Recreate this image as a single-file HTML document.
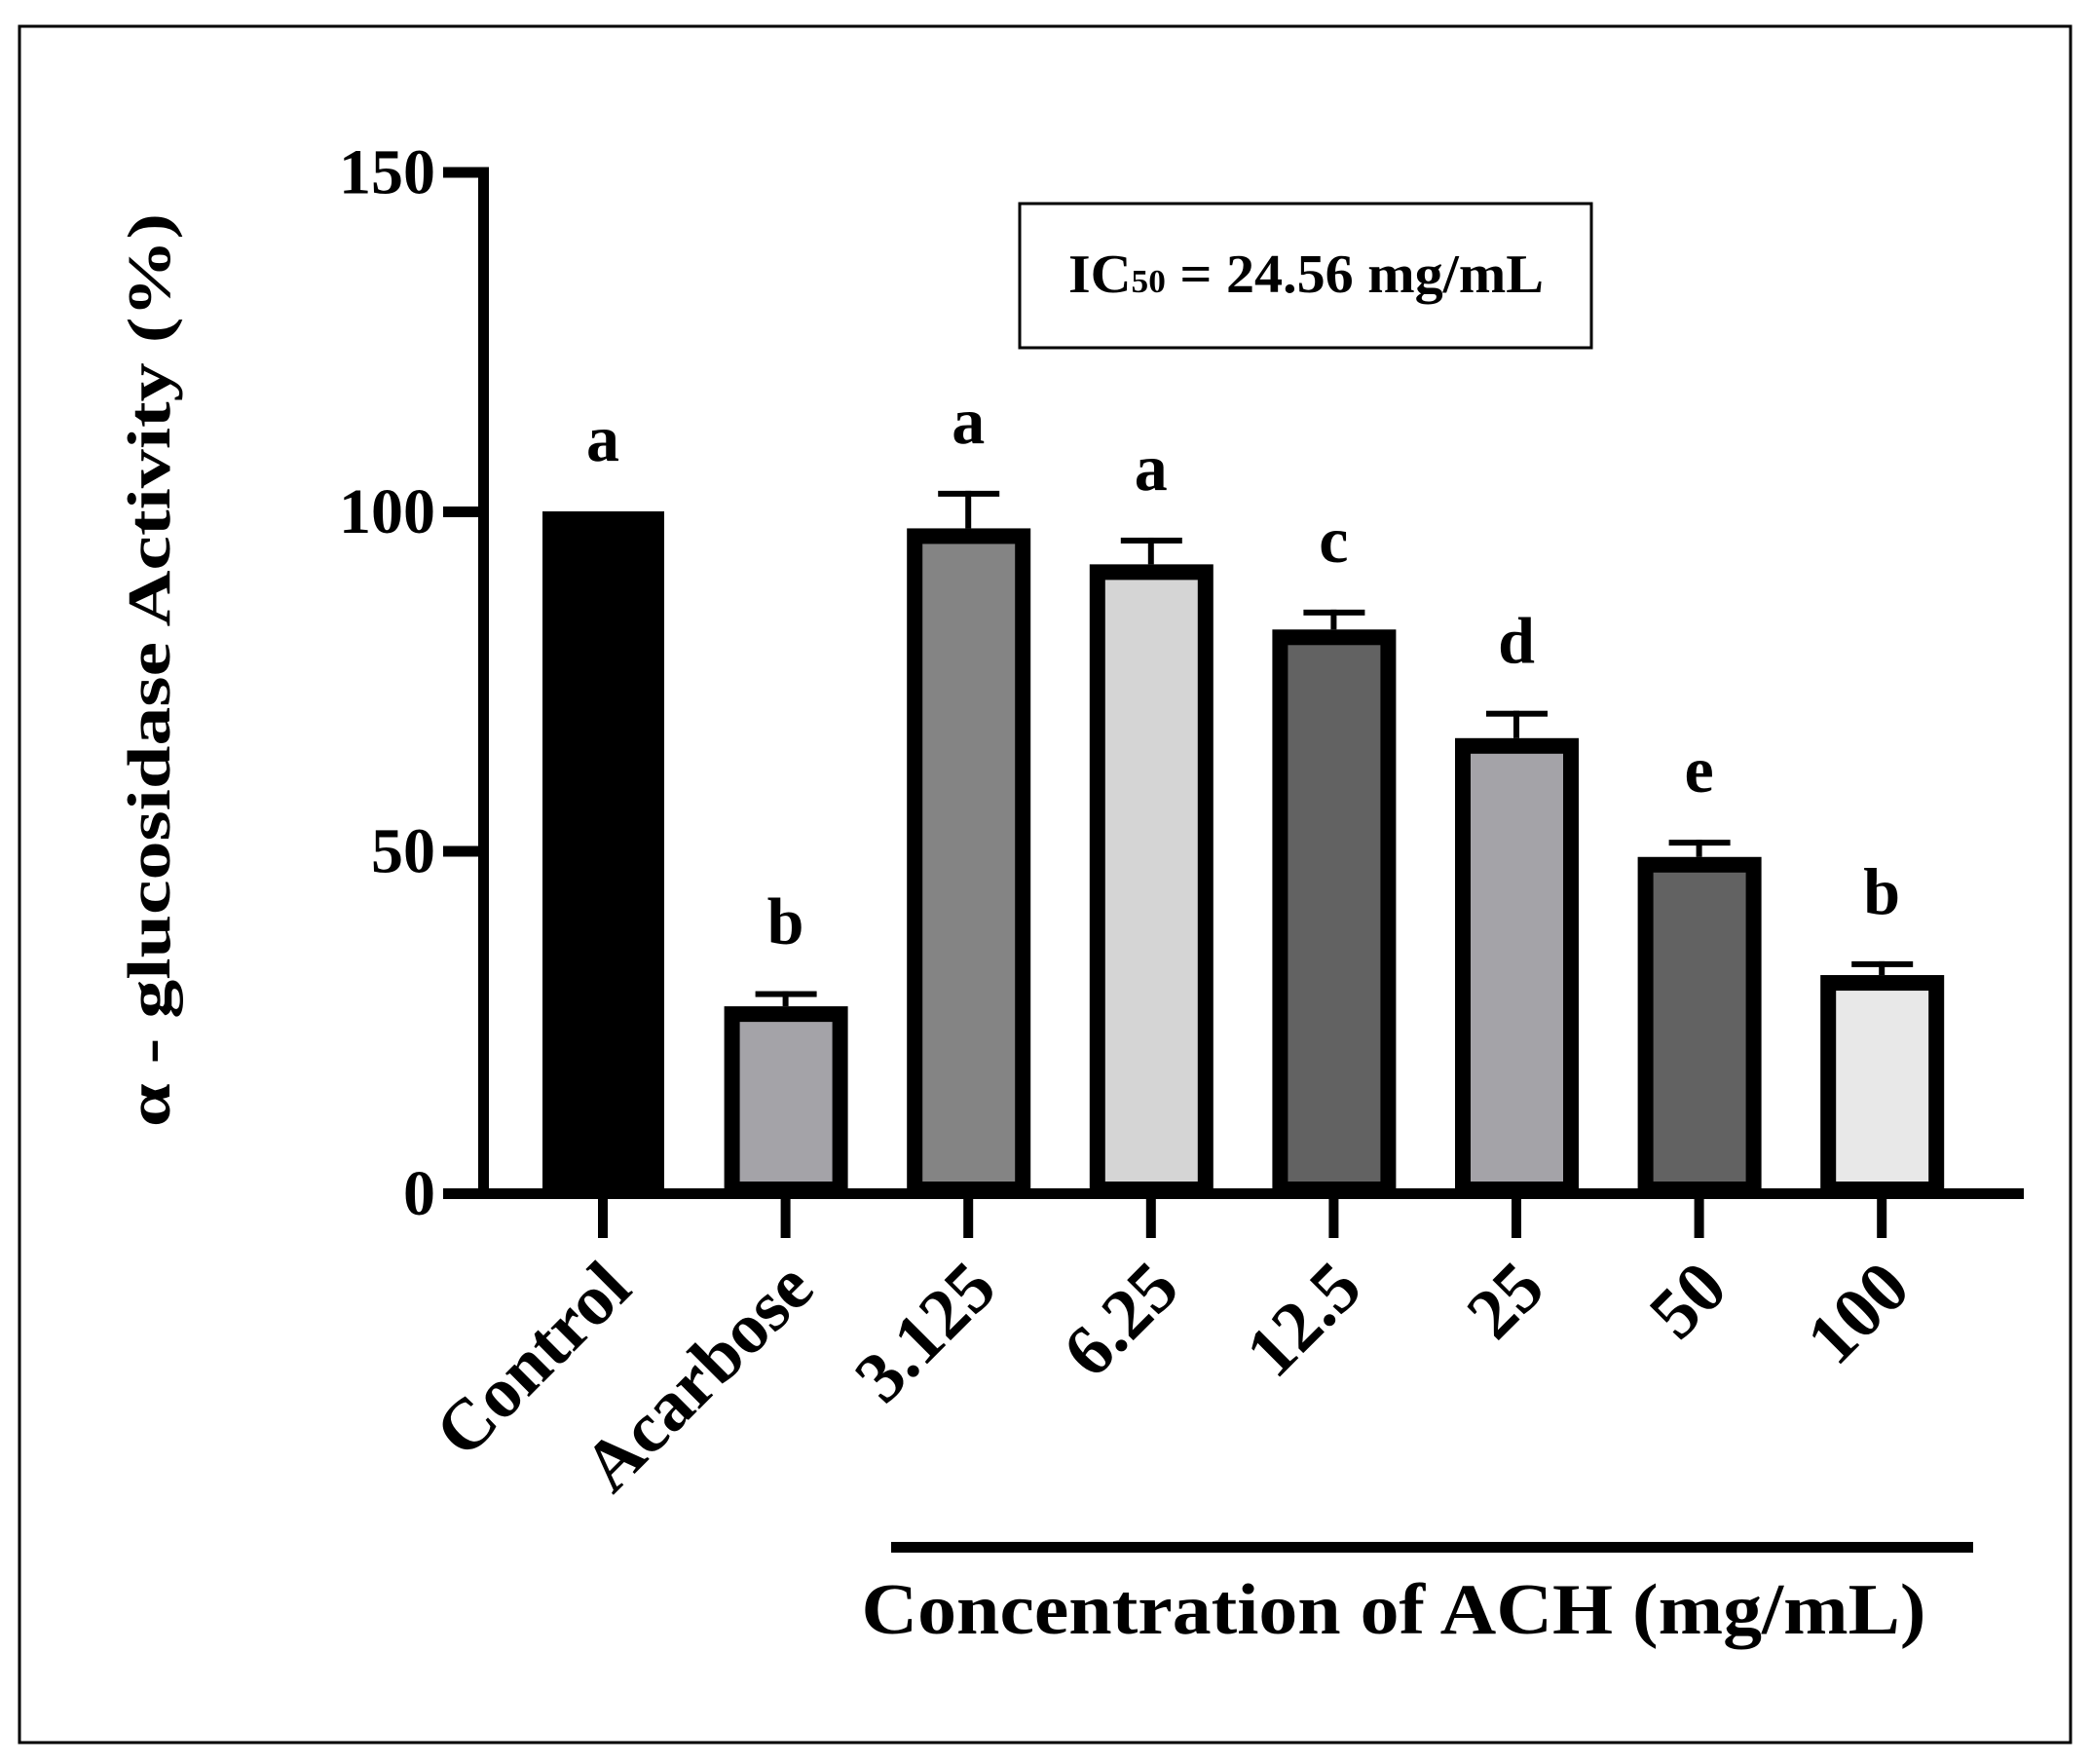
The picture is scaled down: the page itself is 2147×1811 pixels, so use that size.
<!DOCTYPE html>
<html><head><meta charset="utf-8"><style>
html,body{margin:0;padding:0;background:#fff;}
svg{display:block;}
text{font-family:"Liberation Serif",serif;font-weight:bold;fill:#000;}
</style></head><body>
<svg id="chart" width="2147" height="1811" viewBox="0 0 2147 1811" xmlns="http://www.w3.org/2000/svg">
<rect x="20" y="27" width="2106" height="1762" fill="none" stroke="#000" stroke-width="3"/>
<g id="axes"></g>
<g id="bars"></g>
<rect x="1047" y="209" width="587" height="148" fill="none" stroke="#000" stroke-width="3"/>
<text x="1341" y="300" text-anchor="middle" font-size="56" textLength="488" lengthAdjust="spacingAndGlyphs">IC<tspan font-size="34">50</tspan> = 24.56 mg/mL</text>
<text transform="translate(174,688) rotate(-90)" text-anchor="middle" font-size="62" textLength="938" lengthAdjust="spacingAndGlyphs">α - glucosidase Activity (%)</text>
<rect x="915" y="1583" width="1111" height="11" fill="#000"/>
<text x="1431" y="1677" text-anchor="middle" font-size="74" textLength="1093" lengthAdjust="spacingAndGlyphs">Concentration of ACH (mg/mL)</text>
</svg>
<script>
const categories = ["Control","Acarbose","3.125","6.25","12.5","25","50","100"];
const values = [100, 27.1, 97.5, 92.2, 82.6, 66.6, 49.1, 31.7];
const errors = [0, 1.8, 5.1, 3.5, 2.5, 3.6, 2.1, 1.6];
const letters = ["a","b","a","a","c","d","e","b"];
const yTicks = [0, 50, 100, 150];

const NS = "http://www.w3.org/2000/svg";
const fills = ["#000000","#a4a3a8","#848484","#d5d5d5","#626262","#a4a3a8","#626262","#e8e8e8"];
const y = v => 1222 - v * 6.97;
const x = i => 619 + i * 187.6;
function mk(tag, attrs, parent){
  const e = document.createElementNS(NS, tag);
  for (const k in attrs) e.setAttribute(k, attrs[k]);
  parent.appendChild(e); return e;
}
const axes = document.getElementById("axes");
const bars = document.getElementById("bars");

const yl = mk("rect", {x:491, y:y(150)-5, width:11, height:y(0)-y(150)+14, fill:"#000"}, axes);


const xl = mk("rect", {x:455, y:1220, width:1623, height:11, fill:"#000"}, axes);



yTicks.forEach(t => {
  const tk = mk("rect", {x:455, y:(t===0?1220:y(t)-5), width:40, height:11, fill:"#000"}, axes);
  
  
  const lb = mk("text", {x:447, y:(t===0?1225:y(t))+22, "text-anchor":"end", "font-size":66}, axes);
  lb.textContent = t;
  
  
});

categories.forEach((c, i) => {
  const cx = x(i);
  const top = y(values[i]);
  const tk = mk("rect", {x:cx-5, y:1225, width:10, height:46, fill:"#000"}, axes);
  
  
  if (errors[i] > 0) {
    const et = y(values[i] + errors[i]);
    const ev = mk("rect", {x:cx-3, y:et-3, width:6, height:top-et+3, fill:"#000"}, bars);
    
    
    const ec = mk("rect", {x:cx-31, y:et-3, width:63, height:6, fill:"#000"}, bars);
    
    
  }
  let b;
  if (i === 0) {
    b = mk("rect", {x:cx-62, y:top, width:125, height:1221-top, fill:"#000"}, bars);
  } else {
    b = mk("rect", {x:cx-55, y:top+8, width:111, height:1213-top, fill:fills[i], stroke:"#000", "stroke-width":16}, bars);
  }
  
  
  const lt = mk("text", {x:cx, y:y(values[i] + errors[i]) - 52, "text-anchor":"middle", "font-size":68}, bars);
  lt.textContent = letters[i];
  
  
  const xlb = mk("text", {transform:"translate(" + (cx + 32) + ",1326) rotate(-45)", "text-anchor":"end", "font-size":74}, axes);
  xlb.textContent = c;
  
  
});
</script>
</body></html>
